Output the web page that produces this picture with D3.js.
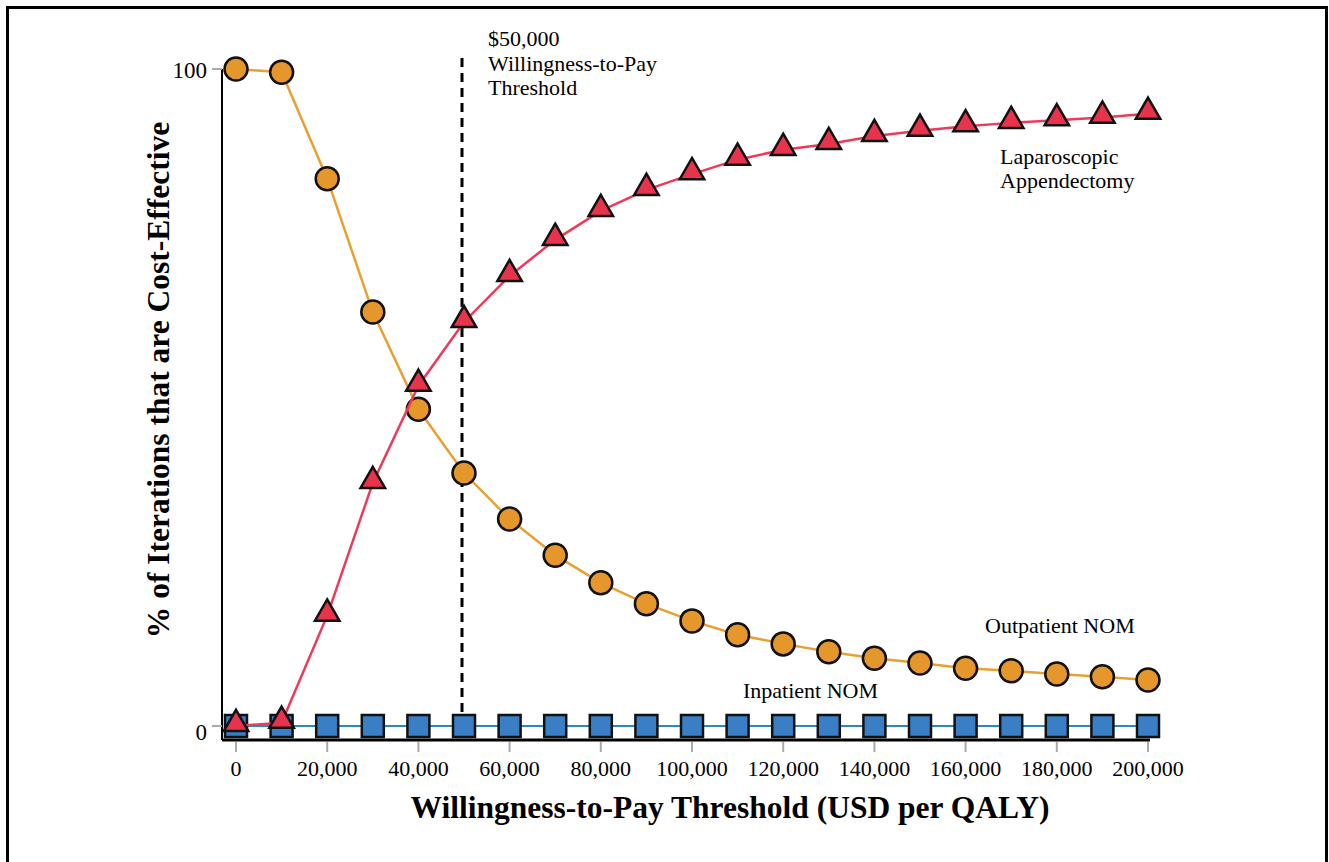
<!DOCTYPE html>
<html>
<head>
<meta charset="utf-8">
<script src="https://cdn.jsdelivr.net/npm/d3@7"></script>
<style>
  body { margin: 0; background: #fff; }
  svg text { font-family: "Liberation Serif", "Times New Roman", serif; }
</style>
</head>
<body>
<div id="chart"></div>
<script>
// willingness-to-pay thresholds (USD per QALY)
var thresholds = [0, 10000, 20000, 30000, 40000, 50000, 60000, 70000, 80000, 90000, 100000,
                  110000, 120000, 130000, 140000, 150000, 160000, 170000, 180000, 190000, 200000];

// % of iterations cost-effective, per strategy
var outpatient = [100, 99.5, 83.3, 63.0, 48.2, 38.5, 31.5, 26.0, 21.8, 18.6, 16.0,
                  13.9, 12.5, 11.3, 10.3, 9.6, 8.8, 8.4, 7.9, 7.5, 7.0];
var laparoscopic = [0, 0.5, 16.8, 37.0, 51.8, 61.5, 68.5, 74.0, 78.4, 81.6, 84.0,
                    86.2, 87.7, 88.6, 89.8, 90.6, 91.3, 91.8, 92.2, 92.6, 93.2];
var inpatient = [0, 0, 0, 0, 0, 0, 0, 0, 0, 0, 0, 0, 0, 0, 0, 0, 0, 0, 0, 0, 0];

var xTicks = [0, 20000, 40000, 60000, 80000, 100000, 120000, 140000, 160000, 180000, 200000];
var yTicks = [0, 100];

var W = 1329, H = 862;

var svg = d3.select("#chart")
    .append("svg")
        .attr("width", W)
        .attr("height", H);

// outer frame
svg.append("rect")
    .attr("x", 7.5).attr("y", 7.5)
    .attr("width", 1319).attr("height", 870)
    .attr("fill", "none")
    .attr("stroke", "#000")
    .attr("stroke-width", 3);

var x = d3.scaleLinear().domain([0, 200000]).range([236, 1148]);
var y = d3.scaleLinear().domain([0, 100]).range([726, 69]);

var axisLeftX = 222, axisBottomY = 740;

// y axis
var gy = svg.append("g").attr("transform", "translate(" + axisLeftX + ",0)");
gy.append("line").attr("x1", 0).attr("x2", 0).attr("y1", 69).attr("y2", axisBottomY)
    .attr("stroke", "#000").attr("stroke-width", 2);
gy.selectAll(".yt").data(yTicks).enter().append("line")
    .attr("x1", -10).attr("x2", 0)
    .attr("y1", function(d) { return y(d); }).attr("y2", function(d) { return y(d); })
    .attr("stroke", "#aaa").attr("stroke-width", 2);
gy.selectAll(".yl").data(yTicks).enter().append("text")
    .attr("x", -15)
    .attr("y", function(d) { return y(d) + (d === 0 ? 6 : 1); })
    .attr("dy", "0.35em")
    .attr("text-anchor", "end")
    .style("font-size", "23px")
    .text(function(d) { return d; });

// x axis
var gx = svg.append("g").attr("transform", "translate(0," + axisBottomY + ")");
gx.append("line").attr("x1", axisLeftX).attr("x2", 1150).attr("y1", 0).attr("y2", 0)
    .attr("stroke", "#000").attr("stroke-width", 3);
gx.selectAll(".xt").data(xTicks).enter().append("line")
    .attr("x1", function(d) { return x(d); }).attr("x2", function(d) { return x(d); })
    .attr("y1", 2).attr("y2", 12)
    .attr("stroke", "#aaa").attr("stroke-width", 2);
gx.selectAll(".xl").data(xTicks).enter().append("text")
    .attr("x", function(d) { return x(d); })
    .attr("y", 36)
    .attr("text-anchor", "middle")
    .style("font-size", "22px")
    .text(function(d) { return d3.format(",")(d); });

// axis titles
svg.append("text")
    .attr("x", 730).attr("y", 818)
    .attr("text-anchor", "middle")
    .style("font-size", "31.5px").style("font-weight", "bold")
    .text("Willingness-to-Pay Threshold (USD per QALY)");

svg.append("text")
    .attr("transform", "translate(169,380) rotate(-90)")
    .attr("text-anchor", "middle")
    .style("font-size", "31.5px").style("font-weight", "bold")
    .text("% of Iterations that are Cost-Effective");

// threshold line
svg.append("line")
    .attr("x1", x(50000) - 2).attr("x2", x(50000) - 2)
    .attr("y1", 58).attr("y2", 733)
    .attr("stroke", "#000").attr("stroke-width", 3)
    .attr("stroke-dasharray", "9,6");

var ann = svg.append("text").attr("x", 488).attr("y", 46).style("font-size", "22px");
["$50,000", "Willingness-to-Pay", "Threshold"].forEach(function(t, i) {
    ann.append("tspan").attr("x", 488).attr("dy", i === 0 ? 0 : 24.5).text(t);
});

function line(vals) {
    return d3.line()
        .x(function(d, i) { return x(thresholds[i]); })
        .y(function(d) { return y(d); })(vals);
}

// inpatient NOM
svg.append("path").attr("d", line(inpatient))
    .attr("fill", "none").attr("stroke", "#2b86cc").attr("stroke-width", 2);
svg.selectAll(".sq").data(inpatient).enter().append("rect")
    .attr("x", function(d, i) { return x(thresholds[i]) - 11; })
    .attr("y", function(d) { return y(d) - 11; })
    .attr("width", 22).attr("height", 22)
    .attr("fill", "#3a7ec6")
    .attr("stroke", "#111").attr("stroke-width", 2.5);

// outpatient NOM
svg.append("path").attr("d", line(outpatient))
    .attr("fill", "none").attr("stroke", "#e9a030").attr("stroke-width", 2.5);
svg.selectAll(".ci").data(outpatient).enter().append("circle")
    .attr("cx", function(d, i) { return x(thresholds[i]); })
    .attr("cy", function(d) { return y(d); })
    .attr("r", 11.5)
    .attr("fill", "#e5972c")
    .attr("stroke", "#111").attr("stroke-width", 2.5);

// laparoscopic appendectomy
svg.append("path").attr("d", line(laparoscopic))
    .attr("fill", "none").attr("stroke", "#ee3a5a").attr("stroke-width", 2.5);
svg.selectAll(".tr").data(laparoscopic).enter().append("path")
    .attr("d", d3.symbol().type(d3.symbolTriangle).size(260))
    .attr("transform", function(d, i) { return "translate(" + x(thresholds[i]) + "," + (y(d) - 2) + ")"; })
    .attr("fill", "#e8334c")
    .attr("stroke", "#111").attr("stroke-width", 2.5);

// series labels
var lap = svg.append("text").attr("x", 1000).attr("y", 164).style("font-size", "22px");
lap.append("tspan").attr("x", 1000).attr("dy", 0).text("Laparoscopic");
lap.append("tspan").attr("x", 1000).attr("dy", 24).text("Appendectomy");

svg.append("text").attr("x", 985).attr("y", 633).style("font-size", "22px").text("Outpatient NOM");
svg.append("text").attr("x", 743).attr("y", 698).style("font-size", "22px").text("Inpatient NOM");
</script>
</body>
</html>
